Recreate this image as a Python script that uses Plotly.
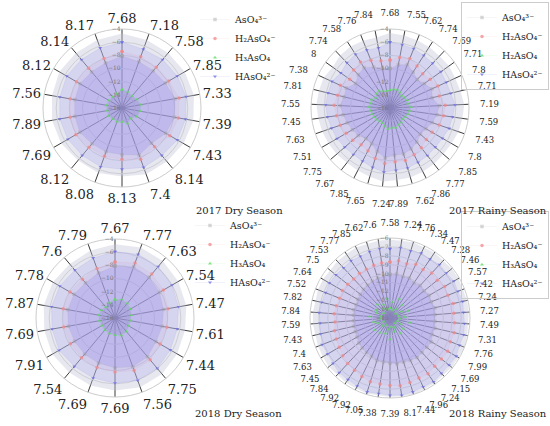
import plotly.graph_objects as go

# pH of each sampling point (angular labels, clockwise from top)
ph_17d = ["7.68", "7.18", "7.58", "7.85", "7.33", "7.39", "7.43", "8.14", "7.4",
          "8.13", "8.08", "8.12", "7.69", "7.89", "7.56", "8.12", "8.14", "8.17"]
ph_17r = ["7.68", "7.55", "7.62", "7.74", "7.69", "7.71", "7.8", "7.71", "7.19",
          "7.59", "7.43", "7.8", "7.85", "7.77", "7.86", "7.62", "7.89", "7.24",
          "7.65", "7.85", "7.67", "7.75", "7.51", "7.63", "7.45", "7.55", "7.81",
          "7.38", "8", "7.74", "7.58", "7.76", "7.84"]
ph_18d = ["7.67", "7.77", "7.63", "7.54", "7.47", "7.61", "7.44", "7.75", "7.56",
          "7.69", "7.69", "7.54", "7.91", "7.69", "7.87", "7.78", "7.6", "7.79"]
ph_18r = ["7.58", "7.24", "7.76", "7.34", "7.47", "7.28", "7.46", "7.57", "7.42",
          "7.24", "7.27", "7.49", "7.31", "7.76", "7.99", "7.69", "7.15", "7.24",
          "7.96", "7.44", "8.1", "7.39", "7.38", "7.05", "7.92", "7.92", "7.84",
          "7.45", "7.63", "7.4", "7.43", "7.59", "7.84", "7.82", "7.52", "7.64",
          "7.5", "7.53", "7.77", "7.85", "7.62", "7.6"]

# log activities (env = outer light band)
env_17d = [-4.7, -5.0, -5.1, -5.0, -4.9, -5.0, -5.2, -5.4, -5.3, -5.6, -5.5, -5.6, -5.3, -5.2, -5.2, -5.0, -5.1, -5.0]
haso4_17d = [-6.0, -6.5, -6.4, -6.3, -6.1, -6.2, -6.3, -6.6, -6.4, -6.7, -6.5, -6.6, -6.5, -6.4, -6.4, -6.3, -6.4, -6.3]
h2aso4_17d = [-7.4, -7.7, -7.9, -7.8, -7.2, -7.3, -7.6, -8.3, -7.7, -8.2, -8.2, -8.2, -7.9, -8.0, -8.0, -8.0, -8.1, -8.0]
aso4_17d = [-8.1, -8.5, -8.6, -8.4, -7.8, -7.9, -8.3, -9.0, -8.4, -8.9, -8.9, -8.9, -8.6, -8.7, -8.7, -8.6, -8.8, -8.7]
h3aso4_17d = [-13.2, -13.4, -13.6, -13.4, -13.1, -13.2, -13.4, -13.9, -13.5, -13.9, -13.8, -13.8, -13.6, -13.7, -13.6, -13.7, -13.8, -13.7]

env_17r = [-4.6, -4.8, -4.9, -5.0, -5.1, -5.0, -5.1, -5.0, -4.7, -4.9, -5.0, -5.2, -5.3, -5.2, -5.1, -5.0, -5.0,
           -4.8, -5.1, -5.3, -5.4, -5.3, -5.2, -5.1, -5.0, -4.8, -4.9, -4.9, -5.3, -5.0, -4.9, -5.0, -5.1]
haso4_17r = [-6.0, -6.2, -6.3, -6.5, -6.6, -6.5, -6.6, -6.5, -6.1, -6.4, -6.5, -6.8, -6.9, -6.8, -6.7, -6.5, -6.5,
             -6.2, -6.6, -6.9, -7.0, -6.9, -6.7, -6.6, -6.4, -6.2, -6.3, -6.3, -6.8, -6.5, -6.3, -6.5, -6.7]
h2aso4_17r = [-8.7, -8.2, -7.9, -8.4, -8.8, -8.5, -8.0, -8.3, -7.6, -7.8, -8.1, -8.6, -8.7, -8.3, -8.0, -7.7, -7.8,
              -7.5, -8.0, -8.7, -8.9, -8.5, -8.3, -8.0, -7.8, -7.5, -7.8, -7.7, -8.5, -8.0, -7.7, -8.2, -8.7]
aso4_17r = [-10.0, -9.3, -8.9, -9.5, -10.0, -9.6, -9.0, -9.4, -8.5, -8.8, -9.2, -9.7, -9.9, -9.4, -9.0, -8.7, -8.8,
            -8.4, -9.1, -9.9, -10.1, -9.6, -9.4, -9.1, -8.8, -8.4, -8.8, -8.7, -9.6, -9.0, -8.7, -9.3, -9.9]
h3aso4_17r = [-13.3, -13.1, -13.0, -13.2, -13.4, -13.3, -13.1, -13.2, -12.8, -13.0, -13.1, -13.3, -13.4, -13.2, -13.1, -12.9, -13.0,
              -12.8, -13.1, -13.4, -13.5, -13.3, -13.2, -13.1, -13.0, -12.8, -13.0, -12.9, -13.3, -13.0, -12.9, -13.2, -13.4]

env_18d = [-4.8, -4.6, -4.7, -4.9, -5.0, -5.2, -5.1, -4.9, -4.8, -5.0, -5.1, -5.2, -5.0, -5.1, -5.0, -5.1, -5.3, -5.1]
haso4_18d = [-5.9, -5.7, -5.8, -6.0, -6.2, -6.4, -6.3, -6.0, -5.9, -6.1, -6.3, -6.4, -6.2, -6.3, -6.2, -6.3, -6.5, -6.3]
h2aso4_18d = [-7.5, -7.1, -7.3, -7.5, -7.8, -8.0, -8.1, -7.7, -7.5, -7.8, -8.0, -8.1, -8.2, -8.1, -8.0, -8.1, -8.3, -8.0]
aso4_18d = [-8.1, -7.7, -7.9, -8.2, -8.5, -8.7, -8.8, -8.3, -8.1, -8.4, -8.7, -8.8, -8.9, -8.8, -8.7, -8.8, -9.0, -8.7]
h3aso4_18d = [-13.2, -13.0, -13.1, -13.3, -13.5, -13.6, -13.6, -13.3, -13.2, -13.4, -13.5, -13.6, -13.7, -13.6, -13.5, -13.6, -13.8, -13.5]

env_18r = [-6.2, -6.2, -6.1, -6.2, -6.1, -6.2, -6.1, -6.1, -6.2, -6.1, -6.1, -6.2, -6.1, -6.0, -6.1, -6.1, -6.2, -6.1, -6.1, -6.0, -6.1,
           -6.1, -6.2, -6.1, -6.2, -6.2, -6.3, -6.2, -6.3, -6.3, -6.4, -6.3, -6.3, -6.4, -6.3, -6.3, -6.4, -6.3, -6.3, -6.2, -6.3, -6.2]
haso4_18r = [-7.2, -7.0, -7.1, -6.9, -7.0, -6.8, -6.9, -6.7, -6.8, -6.6, -6.7, -6.6, -6.5, -6.6, -6.4, -6.5, -6.5, -6.3, -6.4, -6.3, -6.2,
             -6.3, -6.4, -6.3, -6.5, -6.6, -6.6, -6.8, -6.9, -6.8, -7.0, -7.1, -7.0, -7.1, -7.2, -7.1, -7.2, -7.3, -7.2, -7.3, -7.2, -7.1]
h2aso4_18r = [-8.7, -8.5, -8.6, -8.3, -8.4, -8.1, -8.2, -7.9, -8.0, -7.7, -7.8, -7.7, -7.6, -7.7, -7.5, -7.6, -7.6, -7.4, -7.5, -7.4, -7.3,
              -7.4, -7.5, -7.5, -7.7, -7.9, -8.0, -8.2, -8.4, -8.5, -8.6, -8.8, -8.7, -8.8, -8.9, -8.8, -8.9, -9.0, -8.9, -8.9, -8.8, -8.7]
aso4_18r = [-10.1, -10.0, -10.1, -10.0, -10.2, -10.0, -10.1, -9.9, -10.0, -9.8, -9.9, -9.9, -9.8, -9.9, -9.6, -9.7, -9.7, -9.6, -9.7, -9.8, -9.8,
            -9.9, -10.0, -10.0, -10.2, -10.3, -10.4, -10.5, -10.7, -10.8, -10.8, -10.9, -10.9, -10.8, -10.9, -10.8, -10.7, -10.6, -10.5, -10.4, -10.3, -10.2]
h3aso4_18r = [-13.9, -13.2, -14.1, -12.6, -13.8, -13.0, -14.2, -13.5, -12.8, -14.0, -13.3, -13.9, -12.7, -14.1, -13.6, -13.1, -14.2, -12.9, -13.8, -13.4, -14.0,
              -12.6, -13.7, -13.2, -14.1, -13.0, -13.8, -12.8, -14.2, -13.5, -13.1, -13.9, -12.7, -14.0, -13.4, -13.2, -14.1, -12.9, -13.7, -13.3, -14.0, -12.8]

SERIF = "DejaVu Serif"

# name, marker colour, faint line colour, symbol, marker opacity, fill colour
species = [
    ("AsO₄³⁻", "#9a9a9a", "rgba(154,154,154,0.15)", "square", 0.4, "rgba(130,125,232,0.30)"),
    ("H₂AsO₄⁻", "#f08a8a", "rgba(240,138,138,0.15)", "circle", 0.75, "rgba(215,165,225,0.16)"),
    ("H₃AsO₄", "#5fdc5f", "rgba(95,220,95,0.12)", "triangle-up", 0.75, "rgba(110,110,170,0.22)"),
    ("HAsO₄²⁻", "#6e6ee6", "rgba(110,110,230,0.15)", "triangle-down", 0.75, "rgba(160,160,240,0.25)"),
]

fig = go.Figure()


def closed(v):
    return list(v) + [v[0]]


def add_panel(sub, leg, ph, env, series, names):
    n = len(ph)
    theta = [i * 360 / n for i in range(n)]
    # filled areas first
    fig.add_trace(go.Scatterpolar(
        r=closed(env), theta=closed(theta), subplot=sub, mode="lines",
        line=dict(width=0), fill="toself", fillcolor="rgba(195,195,215,0.40)",
        showlegend=False, hoverinfo="skip"))
    for (name, col, lcol, sym, op, fc), vals in zip(species, series):
        fig.add_trace(go.Scatterpolar(
            r=closed(vals), theta=closed(theta), subplot=sub, mode="lines",
            line=dict(width=0), fill="toself", fillcolor=fc,
            showlegend=False, hoverinfo="skip"))
    # markers on top
    for (name, col, lcol, sym, op, fc), vals, nm in zip(species, series, names):
        fig.add_trace(go.Scatterpolar(
            r=closed(vals), theta=closed(theta), subplot=sub, legend=leg,
            name=nm or name, mode="lines+markers",
            line=dict(width=0.6, color=lcol),
            marker=dict(size=3.5, symbol=sym, color=col, opacity=op)))
    return theta


names_std = [None, None, None, None]
names_17r = [None, None, "H₂AsO₄", None]

t1 = add_panel("polar", "legend", ph_17d, env_17d,
               [aso4_17d, h2aso4_17d, h3aso4_17d, haso4_17d], names_std)
t2 = add_panel("polar2", "legend2", ph_17r, env_17r,
               [aso4_17r, h2aso4_17r, h3aso4_17r, haso4_17r], names_17r)
t3 = add_panel("polar3", "legend3", ph_18d, env_18d,
               [aso4_18d, h2aso4_18d, h3aso4_18d, haso4_18d], names_std)
t4 = add_panel("polar4", "legend4", ph_18r, env_18r,
               [aso4_18r, h2aso4_18r, h3aso4_18r, haso4_18r], names_std)


def polar_layout(cx, cy, rad, theta, ph, fsize, pad, rng, dtick):
    return dict(
        domain=dict(x=[(cx - rad) / 550, (cx + rad) / 550],
                    y=[1 - (cy + rad) / 426, 1 - (cy - rad) / 426]),
        bgcolor="white",
        angularaxis=dict(direction="clockwise", rotation=90,
                         tickmode="array", tickvals=theta, ticktext=ph,
                         tickfont=dict(family=SERIF, size=fsize, color="#222"),
                         gridcolor="#3a3a3a", gridwidth=0.8,
                         showline=True, linecolor="#cccccc",
                         ticks="outside" if pad else "", ticklen=max(pad, 1),
                         tickcolor="rgba(0,0,0,0)"),
        radialaxis=dict(range=rng, dtick=dtick, angle=90, tickangle=90,
                        side="counterclockwise",
                        tickfont=dict(family=SERIF, size=6, color="#777"),
                        gridcolor="#d4d4d4", showline=False, ticks=""),
    )


def legend_layout(x, y, border):
    return dict(x=x / 550, y=1 - y / 426, xanchor="right", yanchor="top",
                font=dict(family=SERIF, size=9.5, color="#222"),
                bgcolor="rgba(255,255,255,0)",
                bordercolor="#cccccc" if border else "rgba(0,0,0,0)",
                borderwidth=1 if border else 0, tracegroupgap=0)


fig.update_layout(
    width=550, height=426,
    margin=dict(l=0, r=0, t=0, b=0),
    paper_bgcolor="white",
    polar=polar_layout(122, 108, 79, t1, ph_17d, 13, 0, [-16, -4], 2),
    polar2=polar_layout(390, 108, 79, t2, ph_17r, 8.5, 9, [-16, -4], 2),
    polar3=polar_layout(115, 318, 79, t3, ph_18d, 13, 0, [-16, -4], 2),
    polar4=polar_layout(390, 318, 80, t4, ph_18r, 8.5, 8, [-15, -6], 1),
    legend=legend_layout(281, 5, False),
    legend2=legend_layout(549, 2, True),
    legend3=legend_layout(276, 211, False),
    legend4=legend_layout(549, 211, True),
    annotations=[
        dict(text="2017 Dry Season", x=285 / 550, y=1 - 210 / 426),
        dict(text="2017 Rainy Season", x=549 / 550, y=1 - 210 / 426),
        dict(text="2018 Dry Season", x=284 / 550, y=1 - 413 / 426),
        dict(text="2018 Rainy Season", x=549 / 550, y=1 - 413 / 426),
    ],
)
fig.update_annotations(xref="paper", yref="paper", xanchor="right", yanchor="middle",
                       showarrow=False, font=dict(family=SERIF, size=10, color="#222"))

html_file = "out.html"
fig.write_html(html_file, config={"displayModeBar": False})

# drop the browser's default page margin so the figure sits at 0,0
with open(html_file, "r", encoding="utf-8") as f:
    html_content = f.read()
html_content = html_content.replace(
    "<head>", "<head>\n<style>html, body { margin: 0; padding: 0; overflow: hidden; }</style>", 1)
with open(html_file, "w", encoding="utf-8") as f:
    f.write(html_content)
